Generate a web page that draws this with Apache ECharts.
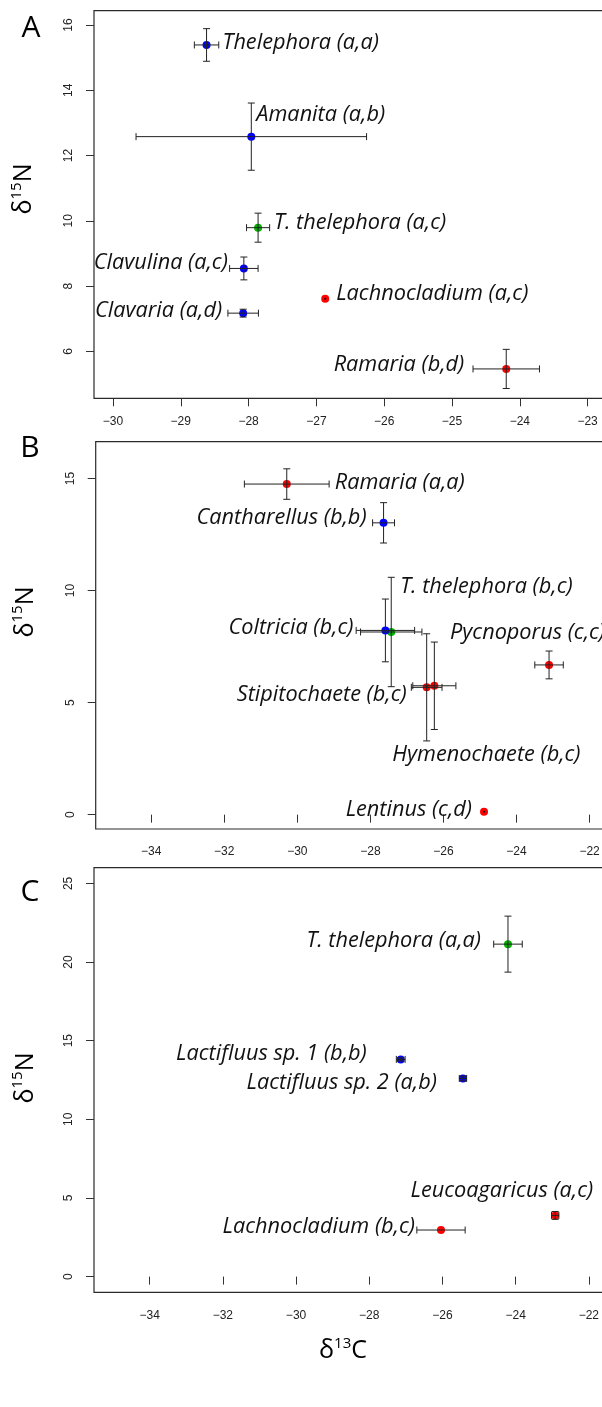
<!DOCTYPE html>
<html><head><meta charset="utf-8">
<script src="https://cdn.jsdelivr.net/npm/echarts@6/dist/echarts.min.js"></script>
<style>html,body{margin:0;padding:0;background:#fff}#c{width:602px;height:1407px}</style>
</head><body><div id="c"></div>
<script>
// ---------- Panel A ----------
const namesA = ['Thelephora (a,a)','Amanita (a,b)','T. thelephora (a,c)','Clavulina (a,c)','Clavaria (a,d)','Lachnocladium (a,c)','Ramaria (b,d)'];
const d13cA  = [-28.62,-27.96,-27.86,-28.07,-28.08,-26.87,-24.20];
const d15nA  = [15.39,12.58,9.79,8.54,7.17,7.61,5.46];
const errCA  = [0.18,1.70,0.17,0.21,0.225,0,0.49];
const errNA  = [0.50,1.03,0.445,0.35,0.12,0,0.60];
const groupA = [0,0,1,0,0,2,2];
const xTicksA = [-30,-29,-28,-27,-26,-25,-24,-23];
const yTicksA = [6,8,10,12,14,16];
const xlimA = [-30,-23], ylimA = [5,16];

// ---------- Panel B ----------
const namesB = ['Ramaria (a,a)','Cantharellus (b,b)','T. thelephora (b,c)','Coltricia (b,c)','Pycnoporus (c,c)','Stipitochaete (b,c)','Hymenochaete (b,c)','Lentinus (c,d)'];
const d13cB  = [-30.29,-27.64,-27.43,-27.59,-23.11,-26.46,-26.25,-24.89];
const d15nB  = [14.75,13.02,8.15,8.22,6.68,5.68,5.75,0.13];
const errCB  = [1.16,0.30,0.84,0.80,0.39,0.42,0.59,0];
const errNB  = [0.68,0.90,2.44,1.40,0.62,2.39,1.95,0];
const groupB = [2,0,1,0,2,2,2,2];
const xTicksB = [-34,-32,-30,-28,-26,-24,-22];
const yTicksB = [0,5,10,15];
const xlimB = [-35,-22], ylimB = [0,16];

// ---------- Panel C ----------
const namesC = ['T. thelephora (a,a)','Lactifluus sp. 1 (b,b)','Lactifluus sp. 2 (a,b)','Leucoagaricus (a,c)','Lachnocladium (b,c)'];
const d13cC  = [-24.21,-27.14,-25.44,-22.92,-26.04];
const d15nC  = [21.14,13.81,12.60,3.89,2.96];
const errCC  = [0.39,0.12,0.10,0.10,0.66];
const errNC  = [1.78,0.10,0.15,0.25,0];
const groupC = [1,0,0,2,2];
const xTicksC = [-34,-32,-30,-28,-26,-24,-22];
const yTicksC = [0,5,10,15,20,25];
const xlimC = [-35,-22], ylimC = [0,25];

// ---------- styling / layout (not data) ----------
const palette = ['#0000FF','#00B400','#FF0000'];
const labelLayoutA = [[16,-2,'left'],[5,-22,'left'],[16,-5,'left'],[-16,-6,'right'],[-21,-2,'right'],[11,-5,'left'],[-42,-4,'right']];
const labelLayoutB = [[48,-1,'left'],[-17,-5,'right'],[9,-45,'left'],[-32,-3,'right'],[-99,-32,'left'],[-20,7,'right'],[-42,69,'left'],[-12,-2,'right']];
const labelLayoutC = [[-27,-3,'right'],[-34,-6,'right'],[-26,4,'right'],[38,-25,'right'],[-26,-3,'right']];
const gridsPx = [
  {left:94,  top:10.7,  width:512.6, height:387.6},
  {left:95.7,top:441.7, width:512.9, height:387.3},
  {left:94,  top:867.7, width:513.9, height:424.6}
];

function ext(l){ const d = l[1]-l[0]; return [l[0]-0.04*d, l[1]+0.04*d]; }

const panels = [
  {names:namesA,x:d13cA,y:d15nA,ex:errCA,ey:errNA,g:groupA,xt:xTicksA,yt:yTicksA,xl:xlimA,yl:ylimA,lab:labelLayoutA},
  {names:namesB,x:d13cB,y:d15nB,ex:errCB,ey:errNB,g:groupB,xt:xTicksB,yt:yTicksB,xl:xlimB,yl:ylimB,lab:labelLayoutB},
  {names:namesC,x:d13cC,y:d15nC,ex:errCC,ey:errNC,g:groupC,xt:xTicksC,yt:yTicksC,xl:xlimC,yl:ylimC,lab:labelLayoutC}
];

const tickFont = {fontFamily:'Liberation Sans, Arial, sans-serif', fontSize:12, color:'#222'};
const grid=[], xAxis=[], yAxis=[], series=[];

panels.forEach((p,i)=>{
  grid.push(Object.assign({show:true, borderColor:'#2a2a2a', borderWidth:1.2, backgroundColor:'transparent', outerBoundsMode:'none', containLabel:false}, gridsPx[i]));
  const xr = ext(p.xl), yr = ext(p.yl);
  xAxis.push({type:'value', gridIndex:i, min:xr[0], max:xr[1],
    axisLine:{show:false}, splitLine:{show:false},
    axisTick:{show:true, length:8, lineStyle:{color:'#333', width:1}, customValues:p.xt},
    axisLabel:Object.assign({customValues:p.xt, margin:17, formatter:v=>String(v).replace('-','\u2212')}, tickFont)});
  yAxis.push({type:'value', gridIndex:i, min:yr[0], max:yr[1],
    axisLine:{show:false}, splitLine:{show:false},
    axisTick:{show:true, length:8, lineStyle:{color:'#333', width:1}, customValues:p.yt},
    axisLabel:Object.assign({customValues:p.yt, margin:19, rotate:90}, tickFont)});

  series.push({type:'scatter', xAxisIndex:i, yAxisIndex:i, symbolSize:8, z:2, silent:true,
    data:p.x.map((v,k)=>({value:[v,p.y[k]], itemStyle:{color:palette[p.g[k]], opacity:1}}))});

  series.push({type:'custom', xAxisIndex:i, yAxisIndex:i, z:3, silent:true,
    data:p.x.map((v,k)=>[v,p.y[k],p.ex[k],p.ey[k]]),
    renderItem:function(params, api){
      const x=api.value(0), y=api.value(1), ex=api.value(2), ey=api.value(3);
      const c=api.coord([x,y]); const cap=3.5;
      const st={stroke:'#222', lineWidth:1};
      const ch=[];
      if(ex>0){
        const l=api.coord([x-ex,y])[0], r=api.coord([x+ex,y])[0];
        ch.push({type:'line',shape:{x1:l,y1:c[1],x2:r,y2:c[1]},style:st});
        ch.push({type:'line',shape:{x1:l,y1:c[1]-cap,x2:l,y2:c[1]+cap},style:st});
        ch.push({type:'line',shape:{x1:r,y1:c[1]-cap,x2:r,y2:c[1]+cap},style:st});
      }
      if(ey>0){
        const t=api.coord([x,y+ey])[1], b=api.coord([x,y-ey])[1];
        ch.push({type:'line',shape:{x1:c[0],y1:t,x2:c[0],y2:b},style:st});
        ch.push({type:'line',shape:{x1:c[0]-cap,y1:t,x2:c[0]+cap,y2:t},style:st});
        ch.push({type:'line',shape:{x1:c[0]-cap,y1:b,x2:c[0]+cap,y2:b},style:st});
      }
      if(!(ex>0) && !(ey>0)){
        ch.push({type:'circle',shape:{cx:c[0],cy:c[1],r:1.1},style:{fill:'#111'}});
      }
      return {type:'group', children:ch};
    }});

  series.push({type:'custom', xAxisIndex:i, yAxisIndex:i, z:4, silent:true,
    data:p.x.map((v,k)=>[v,p.y[k]]),
    renderItem:function(params, api){
      const k=params.dataIndex; const c=api.coord([api.value(0),api.value(1)]);
      const L=p.lab[k];
      return {type:'text', x:c[0]+L[0], y:c[1]+L[1],
        style:{text:p.names[k], fontFamily:'Open Sans', fontStyle:'italic', fontSize:21.7, fill:'#111', align:L[2], verticalAlign:'middle'}};
    }});
});

const titleRich = {
  a:{fontFamily:'Open Sans', fontSize:25, lineHeight:30, color:'#111'},
  s:{fontFamily:'Open Sans', fontSize:15, verticalAlign:'top', color:'#111'}
};
function rotTitle(x,y){
  return {type:'text', x:x, y:y, rotation:Math.PI/2, z:10,
    style:{text:'{a|δ}{s|15}{a|N}', rich:titleRich, align:'center', verticalAlign:'middle'}};
}
const graphic = [
  {type:'text', x:31, y:28, z:10, style:{text:'A', fontFamily:'Open Sans', fontSize:30, fill:'#000', align:'center', verticalAlign:'middle'}},
  {type:'text', x:30, y:448, z:10, style:{text:'B', fontFamily:'Open Sans', fontSize:30, fill:'#000', align:'center', verticalAlign:'middle'}},
  {type:'text', x:30, y:892, z:10, style:{text:'C', fontFamily:'Open Sans', fontSize:30, fill:'#000', align:'center', verticalAlign:'middle'}},
  rotTitle(24,189), rotTitle(25.5,612), rotTitle(25.5,1078),
  {type:'text', x:343, y:1351, z:10, style:{text:'{a|δ}{s|13}{a|C}', rich:titleRich, align:'center', verticalAlign:'middle'}}
];

const chart = echarts.init(document.getElementById('c'), null, {renderer:'canvas'});
chart.setOption({animation:false, backgroundColor:'#fff', grid, xAxis, yAxis, series, graphic});
</script></body></html>
